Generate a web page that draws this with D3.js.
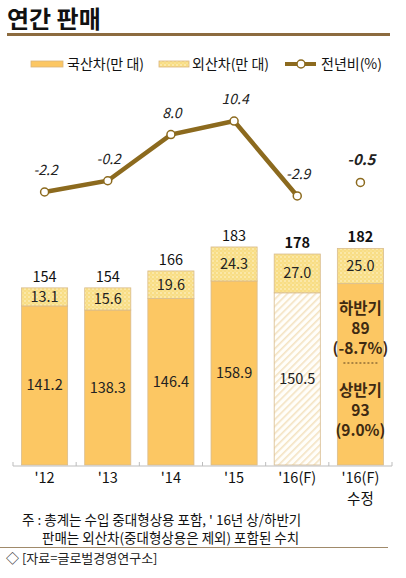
<!DOCTYPE html>
<html>
<head>
<meta charset="utf-8">
<script src="https://cdn.jsdelivr.net/npm/d3@7"></script>
<style>
  body { margin: 0; background: #fff; }
  svg text { font-family: "Noto Sans CJK KR", "Noto Sans", sans-serif; }
</style>
</head>
<body>
<div id="chart"></div>
<script>
// data
let years = ["'12", "'13", "'14", "'15", "'16(F)", "'16(F)"]
let yearSub = ["", "", "", "", "", "수정"]
let domestic = [141.2, 138.3, 146.4, 158.9, 150.5, 157.0]
let imported = [13.1, 15.6, 19.6, 24.3, 27.0, 25.0]
let totals = [154, 154, 166, 183, 178, 182]
let yoy = [-2.2, -0.2, 8.0, 10.4, -2.9, -0.5]
let upperHalf = ["하반기", "89", "(-8.7%)"]
let lowerHalf = ["상반기", "93", "(9.0%)"]

let width = 406, height = 578
let baseY = 465

let svg = d3.select("#chart").append("svg")
  .attr("width", width)
  .attr("height", height)

let defs = svg.append("defs")

// dotted fill for imports
let dots = defs.append("pattern")
  .attr("id", "dots")
  .attr("width", 4)
  .attr("height", 4)
  .attr("patternUnits", "userSpaceOnUse")
dots.append("rect").attr("width", 4).attr("height", 4).attr("fill", "#F8DD84")
dots.append("circle").attr("cx", 1).attr("cy", 1).attr("r", 0.8).attr("fill", "#FFF6D6")
dots.append("circle").attr("cx", 3).attr("cy", 3).attr("r", 0.6).attr("fill", "#FFF0C0")

// hatch for the forecast bar
let hatch = defs.append("pattern")
  .attr("id", "hatch")
  .attr("width", 5)
  .attr("height", 5)
  .attr("patternUnits", "userSpaceOnUse")
  .attr("patternTransform", "rotate(45)")
hatch.append("rect").attr("width", 5).attr("height", 5).attr("fill", "#FFFEFA")
hatch.append("rect").attr("width", 1.6).attr("height", 5).attr("fill", "#F4E3C2")

// title
svg.append("text")
  .attr("x", 7)
  .attr("y", 28)
  .attr("font-size", "24px")
  .attr("font-weight", "bold")
  .attr("fill", "#111")
  .text("연간 판매")

svg.append("rect")
  .attr("x", 7)
  .attr("y", 33)
  .attr("width", 383)
  .attr("height", 3)
  .attr("fill", "#8C6B3F")

// legend
let lg = svg.append("g").attr("font-size", "14px").attr("fill", "#111")
lg.append("rect").attr("x", 31).attr("y", 61).attr("width", 32).attr("height", 6)
  .attr("fill", "#FCC763").attr("stroke", "#D9B57C").attr("stroke-width", 0.8)
lg.append("text").attr("x", 67).attr("y", 69).text("국산차(만 대)")
lg.append("rect").attr("x", 159).attr("y", 61).attr("width", 30).attr("height", 6)
  .attr("fill", "url(#dots)").attr("stroke", "#D9B57C").attr("stroke-width", 0.8)
lg.append("text").attr("x", 192).attr("y", 69).text("외산차(만 대)")
lg.append("line").attr("x1", 285).attr("x2", 316).attr("y1", 64).attr("y2", 64)
  .attr("stroke", "#8C6A1E").attr("stroke-width", 4)
lg.append("circle").attr("cx", 301).attr("cy", 64).attr("r", 4)
  .attr("fill", "#fff").attr("stroke", "#8C6A1E").attr("stroke-width", 1.5)
lg.append("text").attr("x", 321).attr("y", 69).text("전년비(%)")

let x = d3.scaleBand()
  .domain(d3.range(years.length))
  .range([13, 392])
  .paddingInner(0.27)
  .paddingOuter(0.135)

let y = d3.scaleLinear()
  .domain([28.4, 190])
  .range([baseY, 237.1])

let yLine = d3.scaleLinear()
  .domain([-3, 11])
  .range([196.5, 117.7])

let g = svg.append("g")

// domestic segment
g.selectAll(".dom")
  .data(domestic)
  .enter()
  .append("rect")
  .attr("class", "dom")
  .attr("x", (d, i) => x(i))
  .attr("y", d => y(d))
  .attr("width", x.bandwidth())
  .attr("height", d => baseY - y(d))
  .attr("fill", (d, i) => i === 4 ? "url(#hatch)" : "#FCC763")
  .attr("stroke", "#D8BC8E")
  .attr("stroke-width", 0.8)

// imported segment on top
g.selectAll(".imp")
  .data(imported)
  .enter()
  .append("rect")
  .attr("class", "imp")
  .attr("x", (d, i) => x(i))
  .attr("y", (d, i) => y(totals[i]))
  .attr("width", x.bandwidth())
  .attr("height", (d, i) => y(domestic[i]) - y(totals[i]))
  .attr("fill", "url(#dots)")
  .attr("stroke", "#D8BC8E")
  .attr("stroke-width", 0.8)

g.selectAll(".impLabel")
  .data(imported)
  .enter()
  .append("text")
  .attr("x", (d, i) => x(i) + x.bandwidth() / 2)
  .attr("y", (d, i) => (y(domestic[i]) + y(totals[i])) / 2 + 5)
  .attr("text-anchor", "middle")
  .attr("font-size", "14.5px")
  .attr("fill", "#222")
  .text(d => d.toFixed(1))

g.selectAll(".domLabel")
  .data(domestic.slice(0, 5))
  .enter()
  .append("text")
  .attr("x", (d, i) => x(i) + x.bandwidth() / 2)
  .attr("y", d => (y(d) + baseY) / 2 + 5)
  .attr("text-anchor", "middle")
  .attr("font-size", "14.5px")
  .attr("fill", "#222")
  .text(d => d.toFixed(1))

g.selectAll(".totLabel")
  .data(totals)
  .enter()
  .append("text")
  .attr("x", (d, i) => x(i) + x.bandwidth() / 2)
  .attr("y", d => y(d) - 6)
  .attr("text-anchor", "middle")
  .attr("font-size", "14.5px")
  .attr("font-weight", (d, i) => i >= 4 ? "bold" : "normal")
  .attr("fill", "#111")
  .text(d => d)

// half-year notes inside the revised bar
let cx = x(5) + x.bandwidth() / 2
let halves = g.append("g")
  .attr("font-size", "15.5px")
  .attr("font-weight", "bold")
  .attr("fill", "#3E2A12")
  .attr("text-anchor", "middle")
upperHalf.forEach((t, i) => {
  halves.append("text").attr("x", cx).attr("y", 314 + i * 20).text(t)
})
lowerHalf.forEach((t, i) => {
  halves.append("text").attr("x", cx).attr("y", 396 + i * 20).text(t)
})
g.append("line")
  .attr("x1", cx - 17)
  .attr("x2", cx + 17)
  .attr("y1", 363)
  .attr("y2", 363)
  .attr("stroke", "#5A4020")
  .attr("stroke-width", 1)
  .attr("stroke-dasharray", "2,2")

// x axis
let axis = g.append("g")
axis.append("line")
  .attr("x1", 13).attr("x2", 392)
  .attr("y1", baseY + 1).attr("y2", baseY + 1)
  .attr("stroke", "#BDBDBD")
axis.selectAll(".tick")
  .data(d3.range(years.length + 1))
  .enter()
  .append("line")
  .attr("x1", i => 13 + x.step() * i)
  .attr("x2", i => 13 + x.step() * i)
  .attr("y1", baseY - 3)
  .attr("y2", baseY + 1)
  .attr("stroke", "#BDBDBD")

axis.selectAll(".yr")
  .data(years)
  .enter()
  .append("text")
  .attr("x", (d, i) => x(i) + x.bandwidth() / 2)
  .attr("y", 483)
  .attr("text-anchor", "middle")
  .attr("font-size", "14.5px")
  .attr("fill", "#111")
  .text(d => d)

axis.selectAll(".yrSub")
  .data(yearSub)
  .enter()
  .append("text")
  .attr("x", (d, i) => x(i) + x.bandwidth() / 2)
  .attr("y", 504)
  .attr("text-anchor", "middle")
  .attr("font-size", "14.5px")
  .attr("fill", "#111")
  .text(d => d)

// yoy line, only the first five are joined
let linePath = d3.line()
  .x((d, i) => x(i) + x.bandwidth() / 2)
  .y(d => yLine(d))

g.append("path")
  .attr("d", linePath(yoy.slice(0, 5)))
  .attr("fill", "none")
  .attr("stroke", "#8C6A1E")
  .attr("stroke-width", 4.5)

g.selectAll(".pt")
  .data(yoy)
  .enter()
  .append("circle")
  .attr("cx", (d, i) => x(i) + x.bandwidth() / 2)
  .attr("cy", d => yLine(d))
  .attr("r", 4)
  .attr("fill", "#fff")
  .attr("stroke", "#8C6A1E")
  .attr("stroke-width", 1.5)

g.selectAll(".ptLabel")
  .data(yoy)
  .enter()
  .append("text")
  .attr("x", (d, i) => x(i) + x.bandwidth() / 2 + 1)
  .attr("y", d => yLine(d) - 17)
  .attr("text-anchor", "middle")
  .attr("font-style", "italic")
  .attr("font-size", (d, i) => i === 5 ? "15px" : "14px")
  .attr("font-weight", (d, i) => i === 5 ? "bold" : "normal")
  .attr("fill", "#222")
  .text(d => d.toFixed(1))

// notes
let note = svg.append("g").attr("font-size", "13.5px").attr("fill", "#111")
note.append("text").attr("x", 22).attr("y", 525).text("주 : 총계는 수입 중대형상용 포함, ' 16년 상/하반기")
note.append("text").attr("x", 42).attr("y", 543).text("판매는 외산차(중대형상용은 제외) 포함된 수치")

svg.append("line")
  .attr("x1", 0).attr("x2", 388)
  .attr("y1", 547.5).attr("y2", 547.5)
  .attr("stroke", "#A08A6A")
  .attr("stroke-width", 1)

svg.append("text")
  .attr("x", 6)
  .attr("y", 563)
  .attr("font-size", "13px")
  .attr("fill", "#222")
  .text("◇ [자료=글로벌경영연구소]")
</script>
</body>
</html>
